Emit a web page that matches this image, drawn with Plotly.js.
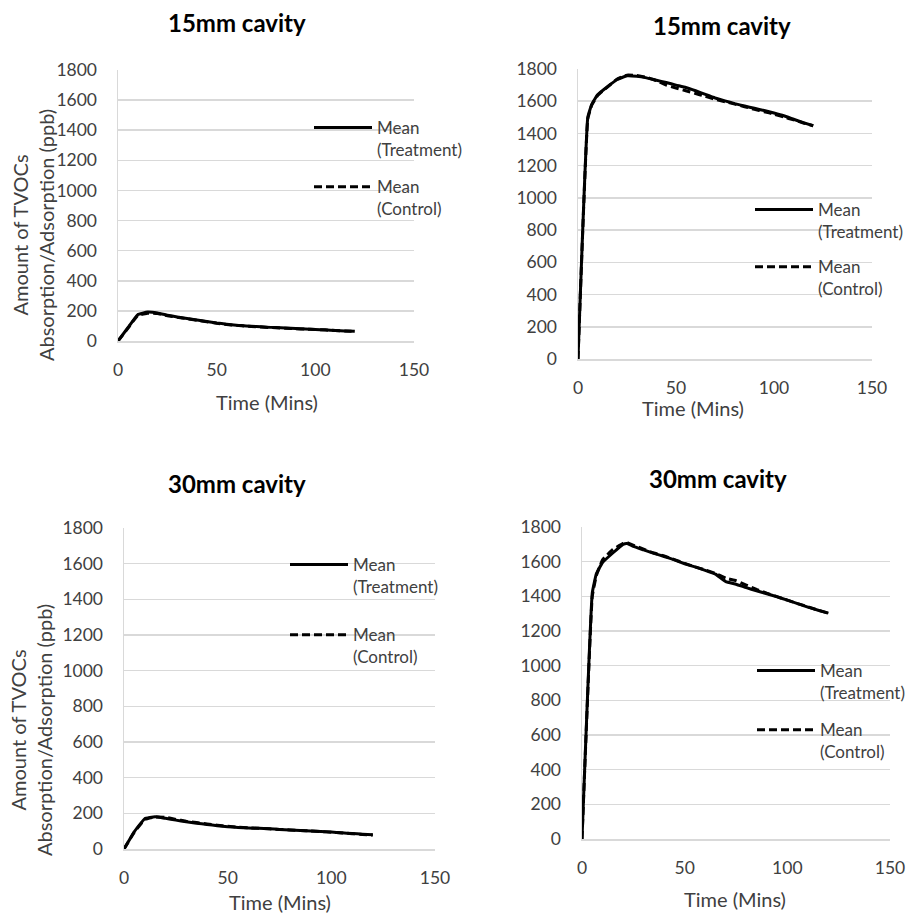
<!DOCTYPE html>
<html>
<head>
<meta charset="utf-8">
<script src="https://cdn.plot.ly/plotly-3.0.1.min.js"></script>
<style>html,body{margin:0;padding:0;background:#fff;}#chart{width:911px;height:916px;}</style>
</head>
<body>
<div id="chart"></div>
<script>
// ---- data ----
const panelTitles = ["15mm cavity", "15mm cavity", "30mm cavity", "30mm cavity"];
const seriesNames = ["Mean<br>(Treatment)", "Mean<br>(Control)"];
const xTitle = "Time (Mins)";
const yTitle = "Amount of TVOCs<br>Absorption/Adsorption (ppb)";

const t25 = [0,5,10,15,20,25,30,35,40,45,50,55,60,65,70,75,80,85,90,95,100,105,110,115,120];
const p1Treatment = [0,88,175,192,186,172,160,150,140,130,120,112,105,100,96,92,89,86,83,80,77,74,70,67,64];
const p1Control   = [0,84,170,185,182,168,158,148,138,128,118,110,104,99,95,91,88,85,82,79,76,73,70,67,64];

const t2 = [0,5,7,10,15,20,25,30,35,40,45,50,55,60,65,70,75,80,85,90,95,100,105,110,115,120];
const p2Treatment = [0,1500,1580,1640,1690,1735,1758,1755,1745,1730,1716,1700,1685,1665,1642,1620,1602,1585,1570,1556,1542,1527,1510,1488,1467,1448];
const p2Control   = [0,1490,1575,1635,1688,1738,1762,1760,1748,1728,1700,1682,1665,1648,1630,1612,1597,1582,1566,1550,1535,1520,1502,1484,1465,1448];

const p3Treatment = [0,98,170,181,172,162,153,145,138,131,125,121,118,116,113,110,107,104,101,98,95,91,87,83,80];
const p3Control   = [0,94,166,180,178,166,156,148,140,133,127,122,119,116,113,110,107,104,101,98,94,90,86,82,78];

const t4 = [0,5,7,10,15,20,22,25,30,35,40,45,50,55,60,65,70,75,80,85,90,95,100,105,110,115,120];
const p4Treatment = [0,1420,1530,1595,1650,1700,1705,1688,1668,1648,1630,1610,1588,1570,1550,1528,1485,1470,1450,1432,1415,1397,1378,1358,1338,1320,1303];
const p4Control   = [0,1400,1520,1610,1670,1705,1710,1695,1672,1650,1633,1612,1590,1570,1552,1532,1505,1490,1465,1440,1418,1398,1378,1358,1340,1320,1303];

const xTicks = [0,50,100,150];
const yTicks = [0,200,400,600,800,1000,1200,1400,1600,1800];

// ---- layout helpers ----
const W = 911, H = 916;
const px = v => v / W;
const py = v => 1 - v / H;

// plot areas in pixels [left, right, top, bottom]
const boxes = [
  [118, 414, 70, 341],
  [578, 872, 69, 359],
  [124, 435, 528, 849],
  [582, 890, 527, 839]
];
const panels = [
  {x: t25, tr: p1Treatment, ct: p1Control},
  {x: t2,  tr: p2Treatment, ct: p2Control},
  {x: t25, tr: p3Treatment, ct: p3Control},
  {x: t4,  tr: p4Treatment, ct: p4Control}
];
// legend placement (pixels: left, top), and gap between items
const legendPos = [[309, 110, 12], [750, 192, 10], [285, 547, 23], [752, 653, 12]];
// title centers [x, y]
const titlePos = [[237, 22], [722, 25], [237, 483], [718, 478]];
// x-title centers
const xTitlePos = [[267, 402], [693, 408], [280, 902], [735, 899]];
// y-title centers
const yTitlePos = [[33, 235], null, [31, 730], null];

const font = "Lato, 'Open Sans', sans-serif";
const grey = "#404040";
const traces = [];
const layout = {
  width: W, height: H,
  margin: {l: 0, r: 0, t: 0, b: 0},
  paper_bgcolor: "#fff", plot_bgcolor: "#fff",
  font: {family: font, color: grey, size: 17},
  annotations: [],
  showlegend: true
};

panels.forEach((p, i) => {
  const n = i + 1;
  const xa = n === 1 ? "x" : "x" + n;
  const ya = n === 1 ? "y" : "y" + n;
  const lg = n === 1 ? "legend" : "legend" + n;
  const b = boxes[i];
  traces.push({
    x: p.x, y: p.tr, type: "scatter", mode: "lines", name: seriesNames[0],
    xaxis: xa, yaxis: ya, legend: lg, legendgroup: "t" + n,
    line: {color: "#000", width: 3, shape: "spline", smoothing: 0.3}
  });
  traces.push({
    x: p.x, y: p.ct, type: "scatter", mode: "lines", name: seriesNames[1],
    xaxis: xa, yaxis: ya, legend: lg, legendgroup: "c" + n,
    line: {color: "#000", width: 3, dash: "8px,4px", shape: "spline", smoothing: 0.3}
  });
  const xk = n === 1 ? "xaxis" : "xaxis" + n;
  const yk = n === 1 ? "yaxis" : "yaxis" + n;
  layout[xk] = {
    domain: [px(b[0]), px(b[1])], anchor: ya, range: [0, 150],
    tickvals: xTicks, showgrid: false, zeroline: false,
    showline: true, linecolor: "#d9d9d9", linewidth: 1.5,
    ticks: "", ticklabelstandoff: 12, fixedrange: true,
    tickfont: {size: 17.5, color: grey, family: font}
  };
  layout[yk] = {
    domain: [py(b[3]), py(b[2])], anchor: xa, range: [0, 1800],
    tickvals: yTicks, showgrid: true, gridcolor: "#d9d9d9", gridwidth: 1.5,
    zeroline: false, showline: true, linecolor: "#d9d9d9", linewidth: 1.5,
    ticks: "", ticklabelstandoff: 16, fixedrange: true,
    tickfont: {size: 17.5, color: grey, family: font}
  };
  const L = legendPos[i];
  layout[lg] = {
    x: px(L[0]), y: py(L[1]), xanchor: "left", yanchor: "top",
    bgcolor: "rgba(0,0,0,0)", borderwidth: 0, valign: "top",
    tracegroupgap: L[2], traceorder: "grouped", itemwidth: 58,
    font: {size: 17, color: grey, family: font}
  };
  layout.annotations.push({
    text: "<b>" + panelTitles[i] + "</b>", xref: "paper", yref: "paper",
    x: px(titlePos[i][0]), y: py(titlePos[i][1]), xanchor: "center", yanchor: "middle",
    showarrow: false, font: {size: 24, color: "#000", family: font}
  });
  layout.annotations.push({
    text: xTitle, xref: "paper", yref: "paper",
    x: px(xTitlePos[i][0]), y: py(xTitlePos[i][1]), xanchor: "center", yanchor: "middle",
    showarrow: false, font: {size: 20, color: grey, family: font}
  });
  if (yTitlePos[i]) {
    layout.annotations.push({
      text: yTitle, xref: "paper", yref: "paper", textangle: -90,
      x: px(yTitlePos[i][0]), y: py(yTitlePos[i][1]), xanchor: "center", yanchor: "middle",
      showarrow: false, font: {size: 20, color: grey, family: font}
    });
  }
});

Plotly.newPlot("chart", traces, layout, {displayModeBar: false, staticPlot: true});
</script>
</body>
</html>
